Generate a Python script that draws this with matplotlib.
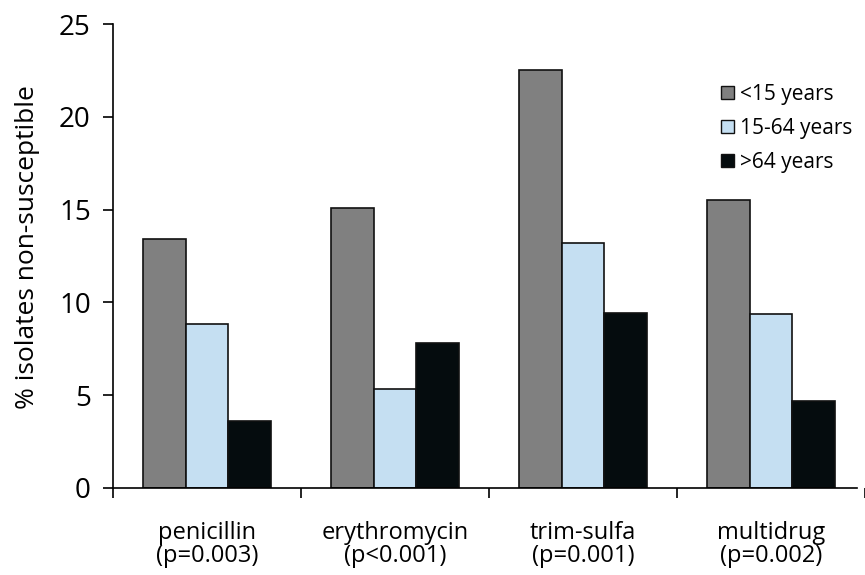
import matplotlib
matplotlib.use("Agg")
import matplotlib.pyplot as plt
import numpy as np

categories = ["penicillin\n(p=0.003)", "erythromycin\n(p<0.001)", "trim-sulfa\n(p=0.001)", "multidrug\n(p=0.002)"]
series_names = ["<15 years", "15-64 years", ">64 years"]
under15 = [13.4, 15.1, 22.5, 15.5]
age15_64 = [8.85, 5.35, 13.2, 9.4]
over64 = [3.6, 7.8, 9.45, 4.7]
yticks = [0, 5, 10, 15, 20, 25]

colors = ["#808080", "#c5dff2", "#050c0e"]

plt.rcParams['font.family'] = ['Open Sans', 'DejaVu Sans']

fig = plt.figure(figsize=(8.65, 5.75), dpi=100)
ax = fig.add_axes([113/865, 1-488/575, 1-113/865, (488-24)/575])

ncat = len(categories)
centers = np.arange(ncat) + 0.5
bw = 43/190
for i, (vals, c) in enumerate(zip([under15, age15_64, over64], colors)):
    ax.bar(centers + (i-1)*bw, vals, width=bw, color=c, edgecolor="#111111",
           linewidth=1.2, label=series_names[i], zorder=2)

ax.set_xlim(0, (865-113)/190)
ax.set_ylim(0, 25)
ax.set_yticks(yticks)
ax.set_yticklabels([str(t) for t in yticks], fontsize=20)
ax.set_xticks(np.arange(ncat+1))
ax.set_xticklabels([])
ax.set_xticks(centers, minor=True)
ax.set_xticklabels(categories, minor=True, fontsize=17, linespacing=0.92)
ax.tick_params(axis='x', which='minor', length=0, pad=24)
ax.tick_params(axis='x', which='major', length=7, width=1.2, direction='out')
ax.tick_params(axis='y', length=7, width=1.2, direction='out', pad=9)
for s in ['top', 'right']:
    ax.spines[s].set_visible(False)
for s in ['left', 'bottom']:
    ax.spines[s].set_linewidth(1.2)
ax.spines['bottom'].set_bounds(0, (865-113)/190)
ax.set_ylabel("% isolates non-susceptible", fontsize=19)
ax.yaxis.set_label_coords(-(113-40)/752, (488-247)/464)

leg = ax.legend(loc='upper left', bbox_to_anchor=(721/865, 1-84/575), bbox_transform=fig.transFigure,
                frameon=False, fontsize=15, handlelength=0.6, handleheight=0.6,
                handletextpad=0.3, labelspacing=0.62, borderaxespad=0, borderpad=0)
for h in leg.legend_handles:
    h.set_linewidth(1.0)

fig.savefig("out.png", dpi=100)
